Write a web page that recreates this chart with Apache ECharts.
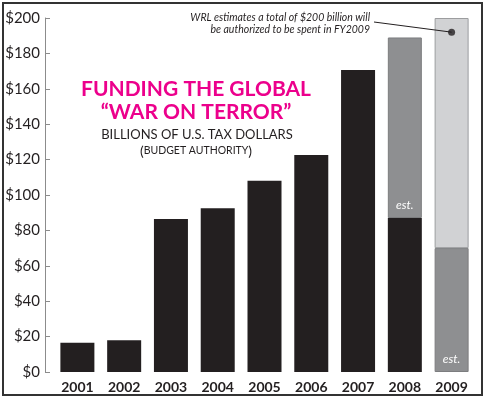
<!DOCTYPE html>
<html>
<head>
<meta charset="utf-8">
<script src="https://cdn.jsdelivr.net/npm/echarts@6/dist/echarts.min.js"></script>
<style>
  html, body { margin: 0; padding: 0; background: #fff; }
  #chart { width: 485px; height: 400px; }
</style>
</head>
<body>
<div id="chart"></div>
<script>
// fiscal years
const years = ['2001', '2002', '2003', '2004', '2005', '2006', '2007', '2008', '2009'];
// enacted funding, billions
const enacted = [16.5, 17.9, 86.4, 92.5, 108, 122.6, 170.6, 87, null];
// estimated part (2008 remainder, 2009 bridge)
const estimated = [null, null, null, null, null, null, null, 102, 70];
// projected rest of 2009
const projected = [null, null, null, null, null, null, null, null, 130];
// annotation point on 2009 bar
const notePoint = ['2009', 192];
const yTicks = [0, 20, 40, 60, 80, 100, 120, 140, 160, 180, 200];

const font = 'Lato, "Open Sans", sans-serif';
const ink = '#231f20';

const chart = echarts.init(document.getElementById('chart'));

const estLabel = {
  show: true,
  position: 'insideBottom',
  distance: 7,
  formatter: 'est.',
  color: '#fff',
  fontStyle: 'italic',
  fontFamily: font,
  fontSize: 12
};

chart.setOption({
  animation: false,
  grid: { left: 54, right: 10, top: 18, bottom: 28 },
  xAxis: {
    type: 'category',
    data: years,
    axisLine: { show: false },
    axisTick: { show: false },
    axisLabel: { color: ink, fontFamily: font, fontWeight: 'bold', fontSize: 14, margin: 8 }
  },
  yAxis: {
    type: 'value',
    min: yTicks[0],
    max: yTicks[yTicks.length - 1],
    interval: 20,
    offset: 9,
    splitLine: { show: false },
    axisLine: { show: true, lineStyle: { color: '#8c8c8c', width: 1 } },
    axisTick: { show: true, inside: true, length: 5, lineStyle: { color: '#8c8c8c' } },
    axisLabel: {
      color: ink, fontFamily: font, fontSize: 15, margin: 5,
      formatter: v => '$' + v
    }
  },
  series: [
    {
      name: 'enacted', type: 'bar', stack: 'total', barWidth: 34,
      data: enacted,
      itemStyle: { color: ink }
    },
    {
      name: 'estimated', type: 'bar', stack: 'total', barWidth: 34,
      data: estimated.map(v => v == null ? null : { value: v, label: estLabel }),
      itemStyle: { color: '#8e8f91', borderColor: '#7c7d7f', borderWidth: 1 }
    },
    {
      name: 'projected', type: 'bar', stack: 'total', barWidth: 34,
      data: projected,
      itemStyle: { color: '#d1d2d4', borderColor: '#9c9d9f', borderWidth: 1 }
    },
    {
      name: 'note', type: 'scatter', symbolSize: 7, z: 5,
      data: [notePoint],
      itemStyle: { color: ink },
      markLine: {
        silent: true,
        symbol: ['none', 'none'],
        label: { show: false },
        lineStyle: { color: ink, width: 1, type: 'solid' },
        data: [[{ x: 374, y: 22 }, { coord: notePoint }]]
      }
    }
  ],
  graphic: [
    {
      type: 'rect', silent: true,
      shape: { x: 3, y: 3, width: 479, height: 392 },
      style: { fill: null, stroke: '#333', lineWidth: 2 }
    },
    {
      type: 'text', silent: true, x: 196, y: 101,
      style: {
        text: 'FUNDING THE GLOBAL\n\u201CWAR ON TERROR\u201D',
        fill: '#ec008c', font: 'bold 21px ' + font,
        align: 'center', verticalAlign: 'middle', lineHeight: 23
      }
    },
    {
      type: 'text', silent: true, x: 197, y: 135,
      style: {
        text: 'BILLIONS OF U.S. TAX DOLLARS',
        fill: ink, font: '13px ' + font,
        align: 'center', verticalAlign: 'middle'
      }
    },
    {
      type: 'text', silent: true, x: 196, y: 151,
      style: {
        text: '{p|(}{s|BUDGET AUTHORITY}{p|)}',
        fill: ink, align: 'center', verticalAlign: 'middle',
        rich: {
          p: { fontSize: 14, fontFamily: font, fill: ink },
          s: { fontSize: 10.5, fontFamily: font, fill: ink }
        }
      }
    },
    {
      type: 'text', silent: true, x: 370, y: 24,
      style: {
        text: 'WRL estimates a total of $200 billion will\nbe authorized to be spent in FY2009',
        fill: ink, font: 'italic 10.5px ' + font,
        align: 'right', verticalAlign: 'middle', lineHeight: 12
      }
    }
  ]
});
</script>
</body>
</html>
